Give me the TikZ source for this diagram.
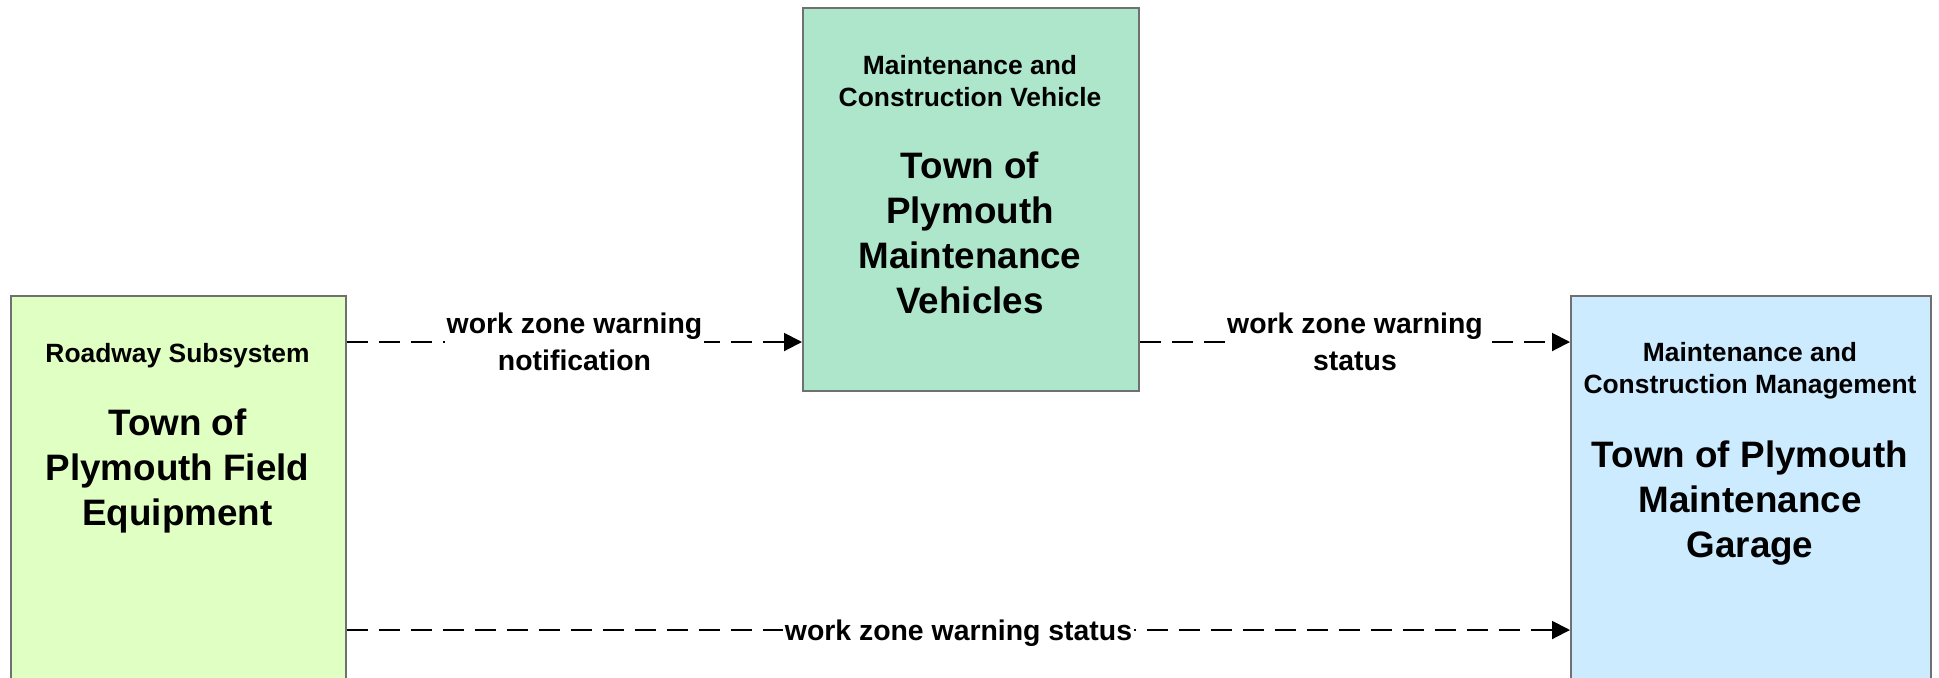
\documentclass[tikz,border=0pt]{standalone}
\usepackage{fontspec}
\setmainfont{Liberation Sans}
\usetikzlibrary{arrows.meta}
\definecolor{fieldfill}{RGB}{224,255,194}
\definecolor{vehiclefill}{RGB}{174,230,204}
\definecolor{centerfill}{RGB}{204,235,255}
\definecolor{boxline}{RGB}{112,112,112}
\tikzset{
  entity/.style={draw=boxline,line width=1pt,anchor=north west,inner sep=0pt},
  classtxt/.style={anchor=base,align=center,inner sep=0pt,font=\bfseries\fontsize{13.2}{16}\selectfont},
  nametxt/.style={anchor=base,align=center,inner sep=0pt,font=\bfseries\fontsize{18.4}{22.5}\selectfont},
  flow/.style={line width=1pt,dash pattern=on 10.5pt off 5.5pt,-{Triangle[length=9pt,width=9pt]}},
  flowlbl/.style={fill=white,inner sep=1pt,align=center,font=\bfseries\fontsize{14.2}{18.5}\selectfont}
}
\begin{document}
\begin{tikzpicture}[x=0.5pt,y=-0.5pt]
    \clip (0,0) rectangle (1939,677);
    % the three boxes
    \node[entity,fill=fieldfill,minimum width=167.5pt,minimum height=197.5pt] (field) at (10,295) {};
    \node[entity,fill=vehiclefill,minimum width=168pt,minimum height=191.5pt] (vehicle) at (802,7) {};
    \node[entity,fill=centerfill,minimum width=180pt,minimum height=197.5pt] (garage) at (1570,295) {};
    % box texts (base = baseline of the last line)
    \node[classtxt] (fieldcls) at (177.5,362) {Roadway Subsystem};
    \node[nametxt] (fieldname) at (177.5,525) {Town of\\Plymouth Field\\Equipment};
    \node[classtxt] (vehiclecls) at (970,106) {Maintenance and\\Construction Vehicle};
    \node[nametxt] (vehiclename) at (970,313) {Town of\\Plymouth\\Maintenance\\Vehicles};
    \node[classtxt] (garagecls) at (1750,393) {Maintenance and\\Construction Management};
    \node[nametxt] (garagename) at (1750,557) {Town of Plymouth\\Maintenance\\Garage};
    % flows
    \coordinate (upper) at (0,342);
    \coordinate (lower) at (0,630);
    \draw[flow] (field.east |- upper) -- node[flowlbl] (flowa) {work zone warning\\notification} (vehicle.west |- upper);
    \draw[flow] (vehicle.east |- upper) -- node[flowlbl] (flowb) {work zone warning\\status} (garage.west |- upper);
    \draw[flow] (field.east |- lower) -- node[flowlbl,yshift=-1.5pt] (flowc) {work zone warning status} (garage.west |- lower);
\end{tikzpicture}
\end{document}
